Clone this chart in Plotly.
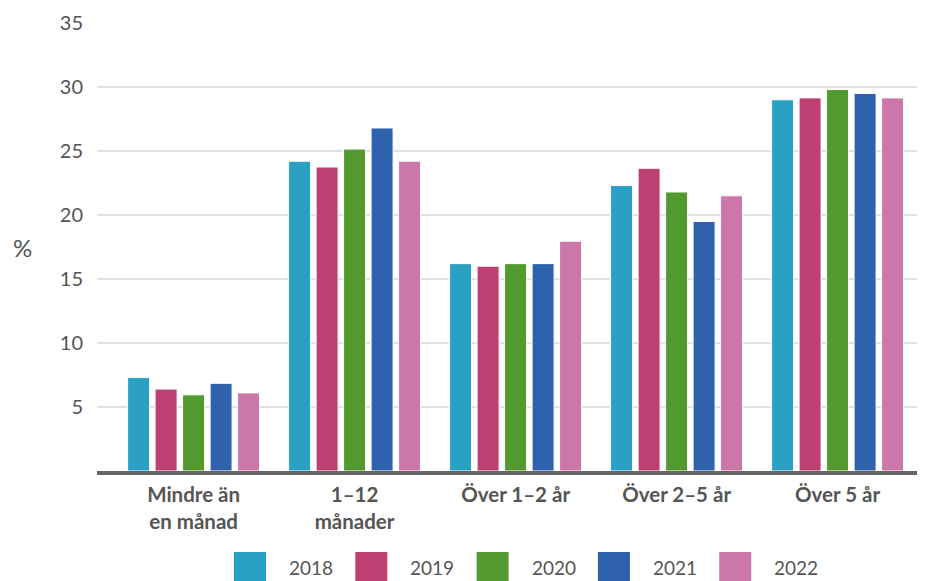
import plotly.graph_objects as go

categories = ["Mindre än<br>en månad", "1–12<br>månader", "Över 1–2 år", "Över 2–5 år", "Över 5 år"]
years = ["2018", "2019", "2020", "2021", "2022"]
v2018 = [7.3, 24.2, 16.2, 22.3, 29.0]
v2019 = [6.4, 23.75, 16.0, 23.65, 29.15]
v2020 = [5.95, 25.15, 16.2, 21.8, 29.8]
v2021 = [6.85, 26.8, 16.2, 19.5, 29.5]
v2022 = [6.1, 24.2, 17.95, 21.5, 29.15]
series = [v2018, v2019, v2020, v2021, v2022]
colors = ["#2aa1c4", "#be3f72", "#529a2f", "#2f62ad", "#cb77aa"]
ytick_vals = [5, 10, 15, 20, 25, 30, 35]

fig = go.Figure()
for yr, vals, col in zip(years, series, colors):
    fig.add_trace(go.Bar(
        x=categories, y=vals, name=yr,
        marker=dict(color=col, line=dict(color="white", width=1)),
        showlegend=False,
    ))

# page has an 8px body margin; figure coordinates are page coordinates minus 8
OFF = 8
W, H = 925 - OFF, 581 - OFF
L, T, B = 97 - OFF, 23 - OFF, 110
PW, PH = W - L, H - T - B


def px(xp):
    return (xp - OFF - L) / PW


def py(yp):
    return (H - B - (yp - OFF)) / PH


# custom legend (large squares)
for i, (yr, col) in enumerate(zip(years, colors)):
    x0 = 234 + i * 121.3
    fig.add_shape(type="rect", xref="paper", yref="paper",
                  x0=px(x0), x1=px(x0 + 32),
                  y0=py(581), y1=py(552),
                  fillcolor=col, line=dict(width=0))
    fig.add_annotation(xref="paper", yref="paper",
                       x=px(x0 + 53), y=py(567),
                       text=yr, showarrow=False, xanchor="left", yanchor="middle",
                       font=dict(size=19, color="#555555", family="Lato"))

fig.add_annotation(xref="paper", yref="paper", x=px(22), y=py(248),
                   text="%", showarrow=False, xanchor="center", yanchor="middle",
                   font=dict(size=24, color="#555555", family="Lato"))

fig.update_layout(
    width=W, height=H,
    margin=dict(l=L, r=0, t=T, b=B, pad=0),
    plot_bgcolor="white", paper_bgcolor="white",
    barmode="group", bargap=0.146, bargroupgap=0.2,
    font=dict(family="Lato", color="#555555"),
    xaxis=dict(
        type="category", range=[-0.6, 4.543],
        showline=True, linecolor="#666666", linewidth=3.5,
        tickfont=dict(size=20.5, family="Lato", color="#555555", weight="bold"),
        ticks="", ticklabelstandoff=3, showgrid=False,
    ),
    yaxis=dict(
        range=[0, 35], tickvals=ytick_vals, showgrid=True,
        gridcolor="#dfe1e5", gridwidth=1.5, zeroline=False,
        tickfont=dict(size=20, family="Lato", color="#555555"),
        ticklabelstandoff=13,
    ),
)

fig.write_html("out.html")
